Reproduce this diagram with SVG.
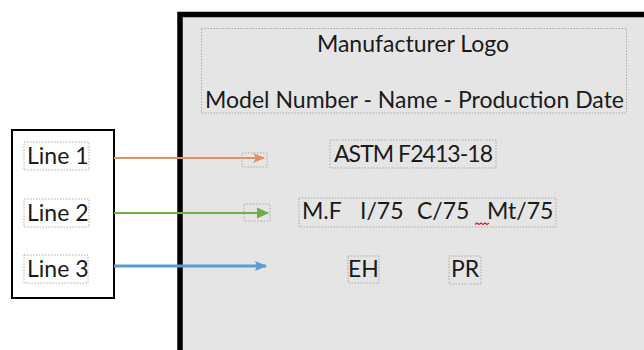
<svg xmlns="http://www.w3.org/2000/svg" width="644" height="350" viewBox="0 0 644 350">
<style>
  text { font-family: Lato, "Liberation Sans", sans-serif; fill: #1a1a1a; }
  .big { font-size: 23px; }
  .dot { fill: none; stroke: #9a9a9a; stroke-width: 0.8; stroke-dasharray: 1.5 1.5; }
  .conn { fill: none; }
</style>
<defs>
  <marker id="aOrange" markerWidth="12" markerHeight="12" refX="11" refY="6" orient="auto" markerUnits="userSpaceOnUse">
    <path d="M0,1 L12,6 L0,11 L3,6 Z" fill="#e0925f"/>
  </marker>
  <marker id="aGreen" markerWidth="12" markerHeight="12" refX="11" refY="6" orient="auto" markerUnits="userSpaceOnUse">
    <path d="M0,0.5 L12,6 L0,11.5 Z" fill="#70ad47"/>
  </marker>
  <marker id="aBlue" markerWidth="12" markerHeight="12" refX="11" refY="6" orient="auto" markerUnits="userSpaceOnUse">
    <path d="M0,1 L12,6 L0,11 L2,6 Z" fill="#5b9bd5"/>
  </marker>
</defs>
<rect x="0" y="0" width="644" height="350" fill="#ffffff"/>

<g id="label-panel">
  <rect x="180" y="14.5" width="470" height="345" fill="#e5e5e5" stroke="#000" stroke-width="5.5"/>
</g>

<g id="header">
  <rect class="dot" x="201.5" y="28.5" width="425" height="84.5"/>
  <text class="big" x="413" y="52" text-anchor="middle">Manufacturer Logo</text>
  <text class="big" x="414.5" y="108" text-anchor="middle" textLength="419">Model Number - Name - Production Date</text>
</g>

<g id="astm">
  <rect class="dot" x="330" y="140" width="166" height="28"/>
  <text class="big" x="413.5" y="162" text-anchor="middle" textLength="159">ASTM F2413-18</text>
</g>

<g id="ratings">
  <rect class="dot" x="299" y="198" width="257" height="29"/>
  <text class="big" x="302" y="219">M.F</text>
  <text class="big" x="360" y="219">I/75</text>
  <text class="big" x="417" y="219">C/75</text>
  <text class="big" x="487" y="219">Mt/75</text>
  <path d="M475,224.5 l2,-1.5 l2,1.5 l2,-1.5 l2,1.5 l2,-1.5 l2,1.5 l2,-1.5" fill="none" stroke="#d02020" stroke-width="1.2"/>
</g>

<g id="eh">
  <rect class="dot" x="348" y="256" width="31" height="27"/>
  <text class="big" x="363.5" y="277" text-anchor="middle">EH</text>
</g>

<g id="pr">
  <rect class="dot" x="449" y="256" width="32" height="28"/>
  <text class="big" x="465" y="277" text-anchor="middle">PR</text>
</g>

<g id="legend">
  <rect x="12" y="130" width="102" height="168" fill="#ffffff" stroke="#000" stroke-width="2"/>
  <rect class="dot" x="24" y="142" width="65" height="28"/>
  <text class="big" x="27" y="164">Line 1</text>
  <rect class="dot" x="24" y="199" width="65" height="28"/>
  <text class="big" x="27" y="221">Line 2</text>
  <rect class="dot" x="24" y="255" width="64" height="28"/>
  <text class="big" x="27" y="277">Line 3</text>
</g>

<g id="connectors">
  <line class="conn" x1="114" y1="158" x2="264" y2="158" stroke="#e0925f" stroke-width="2" marker-end="url(#aOrange)"/>
  <rect class="dot" x="242" y="153" width="25" height="14"/>
  <line class="conn" x1="114" y1="213" x2="268" y2="213" stroke="#70ad47" stroke-width="2" marker-end="url(#aGreen)"/>
  <rect class="dot" x="244" y="204" width="26" height="17"/>
  <line class="conn" x1="114" y1="266" x2="266" y2="266" stroke="#5b9bd5" stroke-width="3" marker-end="url(#aBlue)"/>
</g>
</svg>
